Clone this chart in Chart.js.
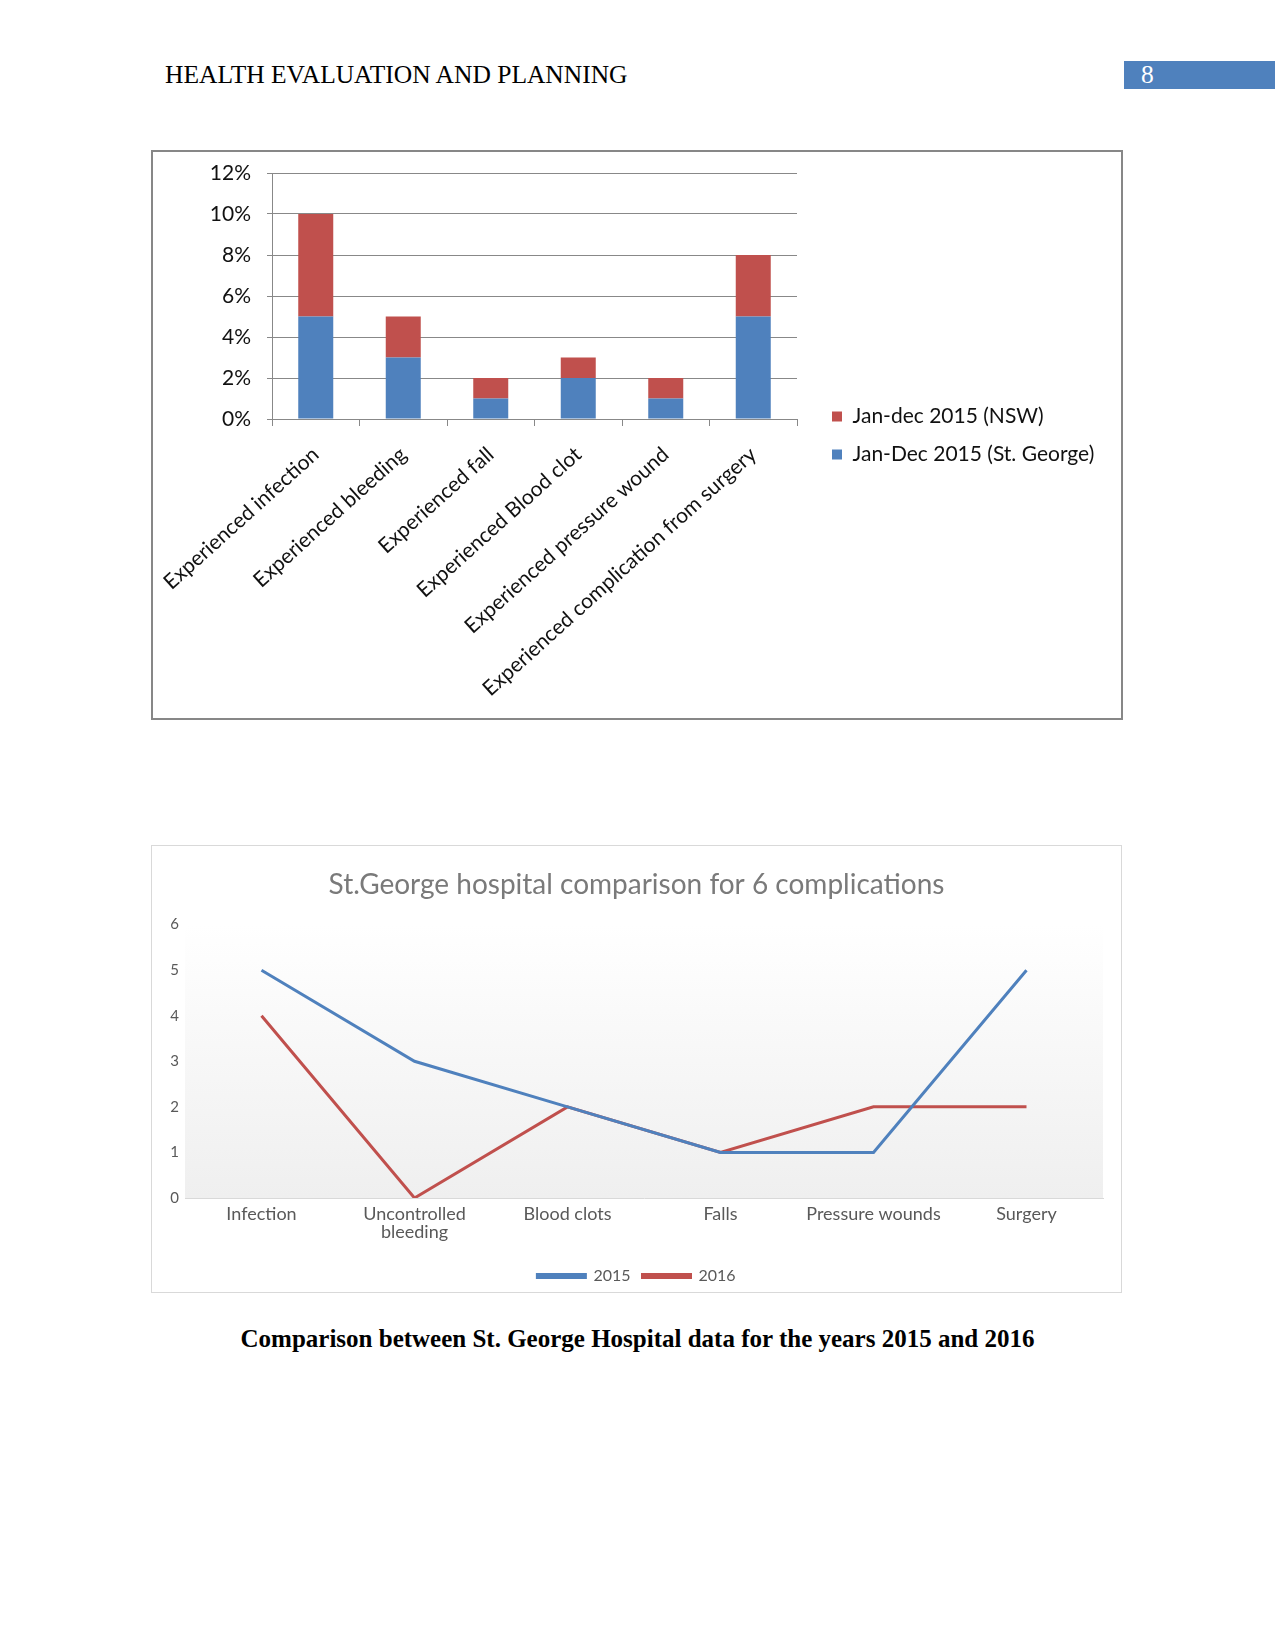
<!DOCTYPE html>
<html>
<head>
<meta charset="utf-8">
<title>Health evaluation and planning</title>
<script src="https://cdn.jsdelivr.net/npm/chart.js@4/dist/chart.umd.min.js"></script>
<style>
  body { margin: 0; background: #fff; width: 1275px; height: 1651px; position: relative; overflow: hidden; }
  .abs { position: absolute; }
  .serif { font-family: 'Liberation Serif', 'Times New Roman', serif; font-size: 25.5px; line-height: 26px; color: #000; white-space: nowrap; }
  #pageNo { left: 1124px; top: 61px; width: 151px; height: 28px; background: #4f81bd; color: #fff; line-height: 28px; padding-left: 17px; box-sizing: border-box; }
  #box1 { left: 151px; top: 150px; width: 972px; height: 570px; border: 2px solid #878787; box-sizing: border-box; }
  #box2 { left: 151px; top: 845px; width: 971px; height: 448px; border: 1px solid #d9d9d9; box-sizing: border-box; }
  #caption { left: 0; width: 1275px; top: 1326px; text-align: center; font-weight: bold; font-size: 25px; }
</style>
</head>
<body>
<div class="abs serif" style="left:165px; top:62px;">HEALTH EVALUATION AND PLANNING</div>
<div id="pageNo" class="abs serif">8</div>

<div id="box1" class="abs"></div>
<canvas id="bars" class="abs" width="968" height="566" style="left:153px; top:152px;"></canvas>

<div id="box2" class="abs"></div>
<canvas id="lines" class="abs" width="969" height="448" style="left:152px; top:846px;"></canvas>

<div id="caption" class="abs serif">Comparison between St. George Hospital data for the years 2015 and 2016</div>

<script>
// ---- data: top chart (stacked %) ----
const barCategories = ['Experienced infection', 'Experienced bleeding', 'Experienced fall',
  'Experienced Blood clot', 'Experienced pressure wound', 'Experienced complication from surgery'];
const stGeorge2015 = [5, 3, 1, 2, 1, 5];
const nsw2015 = [5, 2, 1, 1, 1, 3];
const pctTicks = [0, 2, 4, 6, 8, 10, 12];

// ---- data: bottom chart (counts) ----
const lineCategories = ['Infection', ['Uncontrolled', 'bleeding'], 'Blood clots', 'Falls', 'Pressure wounds', 'Surgery'];
const series2015 = [5, 3, 2, 1, 1, 5];
const series2016 = [4, 0, 2, 1, 2, 2];
const countTicks = [0, 1, 2, 3, 4, 5, 6];

const BLUE = '#4f81bd';
const RED = '#c0504d';
const GRID = '#888888';

Chart.defaults.font.family = "Lato, 'Open Sans', sans-serif";
Chart.defaults.animation = false;
Chart.defaults.responsive = false;
Chart.defaults.devicePixelRatio = 1;

// right legend: fixed width, items placed beside the plot
const LEGEND_W = 324, LEGEND_SHIFT = 18, LEGEND_TOP = 237;
const legendBox = {
  id: 'legendBox',
  beforeInit(chart) {
    const fit = chart.legend.fit;
    chart.legend.fit = function () { fit.call(this); this.width = LEGEND_W; };
  },
  afterLayout(chart) {
    chart.legend.left += LEGEND_SHIFT;
    chart.legend.top = LEGEND_TOP;
  }
};

new Chart(document.getElementById('bars'), {
  type: 'bar',
  data: {
    labels: barCategories,
    datasets: [
      { label: 'Jan-Dec 2015 (St. George)', data: stGeorge2015, backgroundColor: BLUE, categoryPercentage: 1, barPercentage: 0.4 },
      { label: 'Jan-dec 2015 (NSW)', data: nsw2015, backgroundColor: RED, categoryPercentage: 1, barPercentage: 0.4 },
    ],
  },
  options: {
    layout: { padding: { top: 21, right: 0, bottom: 0, left: 0 } },
    plugins: {
      legend: {
        position: 'right', align: 'start', reverse: true,
        labels: { boxWidth: 10, boxHeight: 10, padding: 17, color: '#111', font: { size: 21 } },
      },
      tooltip: { enabled: false },
    },
    scales: {
      x: {
        stacked: true,
        grid: { drawOnChartArea: false, color: GRID, tickLength: 7, offset: true },
        border: { color: GRID },
        ticks: { minRotation: 42, maxRotation: 42, autoSkip: false, color: '#111', font: { size: 21 }, padding: 16 },
        afterFit: (s) => { s.height = 299; s.paddingLeft = 0; s.paddingRight = 0; },
      },
      y: {
        stacked: true, min: 0, max: 12,
        afterBuildTicks: (s) => { s.ticks = pctTicks.map((v) => ({ value: v })); },
        ticks: { callback: (v) => v + '%', color: '#111', font: { size: 21 }, padding: 16 },
        grid: { color: GRID, tickLength: 5 },
        border: { color: GRID },
        afterFit: (s) => { s.width = 119; s.paddingTop = 0; s.paddingBottom = 0; },
      },
    },
  },
  plugins: [legendBox],
});

// soft gradient behind the line plot
const plotShade = {
  id: 'plotShade',
  beforeDraw(chart) {
    const { ctx, chartArea: a } = chart;
    const g = ctx.createLinearGradient(0, a.top, 0, a.bottom);
    g.addColorStop(0, '#ffffff');
    g.addColorStop(1, '#efefef');
    ctx.save();
    ctx.fillStyle = g;
    ctx.fillRect(a.left, a.top, a.right - a.left, a.bottom - a.top);
    ctx.restore();
  }
};

// keep title and legend centred on the whole frame, not on the padded area
const PAD_RIGHT = 18;
const recenter = {
  id: 'recenter',
  afterLayout(chart) {
    for (const box of [chart.titleBlock, chart.legend]) {
      box.left += PAD_RIGHT / 2;
      box.right += PAD_RIGHT / 2;
    }
  }
};

new Chart(document.getElementById('lines'), {
  type: 'line',
  data: {
    labels: lineCategories,
    datasets: [
      { label: '2015', data: series2015, borderColor: BLUE, backgroundColor: BLUE, borderWidth: 3, pointRadius: 0, tension: 0 },
      { label: '2016', data: series2016, borderColor: RED, backgroundColor: RED, borderWidth: 3, pointRadius: 0, tension: 0 },
    ],
  },
  options: {
    layout: { padding: { top: 0, right: PAD_RIGHT, bottom: 0, left: 0 } },
    plugins: {
      title: {
        display: true, text: 'St.George hospital comparison for 6 complications',
        color: '#7a7a7a', font: { size: 28, weight: 'normal' }, padding: { top: 22, bottom: 23 },
      },
      legend: {
        position: 'bottom',
        labels: { boxWidth: 48, boxHeight: 3, padding: 12, color: '#595959', font: { size: 16 } },
      },
      tooltip: { enabled: false },
    },
    scales: {
      x: {
        offset: true,
        grid: { drawOnChartArea: false, drawTicks: false, color: '#d9d9d9' },
        border: { color: '#d9d9d9' },
        ticks: { color: '#595959', font: { size: 18, lineHeight: 1 }, padding: 7, maxRotation: 0, autoSkip: false },
        afterFit: (s) => { s.height = 58; },
      },
      y: {
        min: 0, max: 6,
        afterBuildTicks: (s) => { s.ticks = countTicks.map((v) => ({ value: v })); },
        grid: { display: false, drawTicks: false },
        border: { display: false },
        ticks: { color: '#595959', font: { size: 15 }, padding: 6 },
        afterFit: (s) => { s.width = 33; },
      },
    },
  },
  plugins: [plotShade, recenter],
});
</script>
</body>
</html>
